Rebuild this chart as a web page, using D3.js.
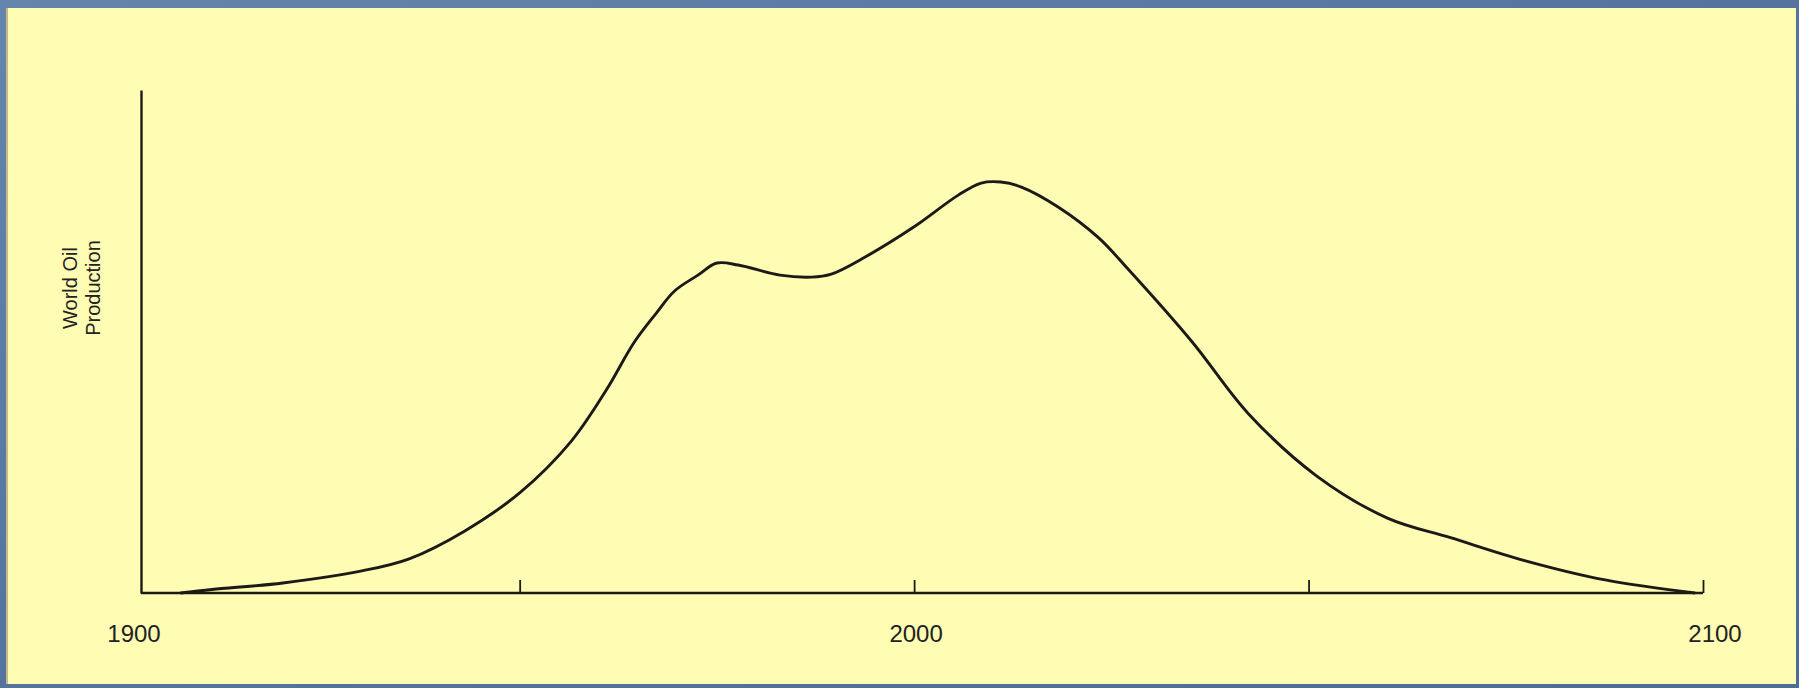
<!DOCTYPE html>
<html>
<head>
<meta charset="utf-8">
<script src="https://cdn.jsdelivr.net/npm/d3@7"></script>
<style>
  html, body { margin: 0; padding: 0; background: #5a7aa3; }
  svg { display: block; }
</style>
</head>
<body>
<svg id="chart" width="1799" height="688"></svg>
<script>
// years and production (production in % of axis height)
var years = [1907, 1911, 1920, 1930, 1936, 1943, 1950, 1956.5, 1961, 1964.5, 1967.3, 1969.6, 1972.6, 1975,
             1977.7, 1983, 1987, 1989.5, 1993.8, 2000, 2005.6, 2008.5, 2011, 2013.6, 2018.3, 2023.4,
             2027, 2035.2, 2042.4, 2051, 2060, 2068, 2077.5, 2087.6, 2099];
var production = [0, 0.7, 2.0, 4.4, 6.8, 12.3, 19.9, 30.1, 40.4, 49.8, 55.6, 60.0, 63.2, 65.6,
                  65.2, 63.2, 62.8, 63.4, 66.8, 72.8, 79.1, 81.5, 81.7, 80.7, 76.7, 70.6,
                  64.6, 50.0, 35.6, 23.3, 14.9, 11.0, 6.4, 2.6, 0];
var tickYears = [1950, 2000, 2050, 2100];
var labelYears = [1900, 2000, 2100];
var titleLines = ["World Oil", "Production"];

var svg = d3.select("#chart");

// textured blue frame, then the yellow sheet
var defs = svg.append("defs");
var grad = defs.append("linearGradient").attr("id", "frame").attr("x1", 0).attr("y1", 0).attr("x2", 1).attr("y2", 1);
grad.append("stop").attr("offset", "0%").attr("stop-color", "#6585ad");
grad.append("stop").attr("offset", "50%").attr("stop-color", "#54749e");
grad.append("stop").attr("offset", "100%").attr("stop-color", "#4d6c96");
svg.append("rect").attr("width", 1799).attr("height", 688).attr("fill", "url(#frame)");
svg.append("rect")
    .attr("x", 6).attr("y", 8).attr("width", 1790).attr("height", 676)
    .attr("fill", "#fffcb4");
svg.append("line").attr("x1", 7).attr("x2", 7).attr("y1", 8).attr("y2", 684)
    .attr("stroke", "#c9b98a").attr("stroke-width", 2);

var x = d3.scaleLinear().domain([1902, 2100]).range([141, 1703]);
var y = d3.scaleLinear().domain([0, 100]).range([593, 90]);

var ink = "#1c1a16";

// x axis: ticks point upward, no domain end caps
var xAxis = d3.axisTop(x).tickValues(tickYears).tickSize(13).tickFormat("");
var gx = svg.append("g").attr("transform", "translate(0," + y(0) + ")").call(xAxis);
gx.select(".domain").attr("d", "M" + x.range()[0] + ",0H" + x.range()[1])
    .attr("stroke", ink).attr("stroke-width", 2.4);
gx.selectAll(".tick line").attr("stroke", ink).attr("stroke-width", 1.8);

// y axis without ticks
var yAxis = d3.axisLeft(y).tickValues([]).tickSizeOuter(0);
var gy = svg.append("g").attr("transform", "translate(" + x(1902) + ",0)").call(yAxis);
gy.select(".domain").attr("stroke", ink).attr("stroke-width", 2.4);

// year labels (1900 sits a little left of the corner, 2100 a little right of the end)
var labelShift = { 1900: -7, 2000: 2, 2100: 12 };
svg.append("g").selectAll("text")
    .data(labelYears)
    .join("text")
    .attr("x", function(d) { return x(Math.max(d, 1902)) + labelShift[d]; })
    .attr("y", 642)
    .attr("text-anchor", "middle")
    .attr("font-family", "Liberation Sans, Arial, sans-serif")
    .attr("font-size", 24)
    .attr("fill", "#222")
    .text(function(d) { return d; });

// y title, two rotated lines
svg.append("g").attr("transform", "translate(100,288) rotate(-90)")
    .selectAll("text")
    .data(titleLines)
    .join("text")
    .attr("x", 0)
    .attr("y", function(d, i) { return (i - 1) * 23; })
    .attr("text-anchor", "middle")
    .attr("font-family", "Liberation Sans, Arial, sans-serif")
    .attr("font-size", 20)
    .attr("fill", "#222")
    .text(function(d) { return d; });

// the production curve
var line = d3.line()
    .x(function(d, i) { return x(years[i]); })
    .y(function(d) { return y(d); })
    .curve(d3.curveCatmullRom.alpha(0.5));

svg.append("path")
    .datum(production)
    .attr("d", line)
    .attr("fill", "none")
    .attr("stroke", ink)
    .attr("stroke-width", 2.9)
    .attr("stroke-linejoin", "round");
</script>
</body>
</html>
